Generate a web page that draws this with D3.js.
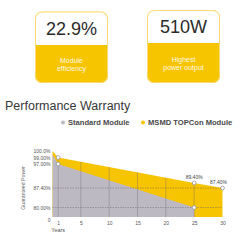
<!DOCTYPE html>
<html>
<head>
<meta charset="utf-8">
<script src="https://cdn.jsdelivr.net/npm/d3@7"></script>
<style>
  body { margin: 0; background: #fff; }
  svg { display: block; font-family: "Liberation Sans", Arial, sans-serif; }
</style>
</head>
<body>
<script>
// top cards
var cardValues = ["22.9%", "510W"];
var cardLabels = [["Module", "efficiency"], ["Highest", "power output"]];

// warranty chart
var seriesNames = ["Standard Module", "MSMD TOPCon Module"];
var standardYears = [0, 1, 25];
var standardPower = [99.5, 97, 80];
var topconYears = [0, 1, 25, 30];
var topconPower = [100, 99, 89.4, 87.4];
var yTickValues = [0, 80, 87.4, 97, 99, 100];
var yTickLabels = ["0", "80.00%", "87.40%", "97.00%", "99.00%", "100.0%"];
var xTickValues = [1, 5, 10, 15, 20, 25, 30];
var gridYears = [1, 5, 10, 15, 20, 25];
var dashedLevels = [87.4, 80];

var yellow = "#f7c400";
var grey = "#bdb9c3";

var svg = d3.select("body").append("svg")
    .attr("width", 240)
    .attr("height", 240);

// ---- cards
var cards = [
  {x: 35, y: 11.5, w: 73, h: 71.5, split: 45, base: 35, lab: [62.5, 71]},
  {x: 147, y: 10, w: 73, h: 73, split: 43, base: 33, lab: [61.5, 70]}
];

cards.forEach(function(c, i) {
  var id = "cardclip" + i;
  svg.append("clipPath").attr("id", id)
    .append("rect")
    .attr("x", c.x).attr("y", c.y).attr("width", c.w).attr("height", c.h).attr("rx", 7);

  var g = svg.append("g");
  g.append("rect")
    .attr("x", c.x).attr("y", c.y).attr("width", c.w).attr("height", c.h)
    .attr("clip-path", "url(#" + id + ")")
    .attr("fill", yellow);
  g.append("rect")
    .attr("x", c.x).attr("y", c.y).attr("width", c.w).attr("height", c.split - c.y)
    .attr("clip-path", "url(#" + id + ")")
    .attr("fill", "#fff");
  g.append("rect")
    .attr("x", c.x + 0.5).attr("y", c.y + 0.5).attr("width", c.w - 1).attr("height", c.h - 1)
    .attr("rx", 7)
    .attr("fill", "none")
    .attr("stroke", "#f9d970")
    .attr("stroke-width", 1);

  g.append("text")
    .attr("x", c.x + c.w / 2).attr("y", c.base)
    .attr("text-anchor", "middle")
    .attr("font-size", 18)
    .attr("fill", "#2a2a2a")
    .text(cardValues[i]);

  cardLabels[i].forEach(function(t, j) {
    g.append("text")
      .attr("x", c.x + c.w / 2).attr("y", c.lab[j])
      .attr("text-anchor", "middle")
      .attr("font-size", 7)
      .attr("fill", "#fff8e6")
      .text(t);
  });
});

// ---- title + legend
svg.append("text")
  .attr("x", 5).attr("y", 110)
  .attr("font-size", 12.5)
  .attr("fill", "#383838")
  .text("Performance Warranty");

var legendX = [63, 143];
var legendColors = [grey, yellow];
seriesNames.forEach(function(n, i) {
  svg.append("circle")
    .attr("cx", legendX[i]).attr("cy", 122.5).attr("r", 2)
    .attr("fill", legendColors[i]);
  svg.append("text")
    .attr("x", legendX[i] + 5).attr("y", 125)
    .attr("font-size", 7.6)
    .attr("font-weight", "bold")
    .attr("fill", "#4a4a4a")
    .text(n);
});

// ---- chart
var x = d3.scaleLinear().domain([0, 30]).range([52.5, 222.5]);
var y = d3.scaleLinear()
    .domain([0, 80, 87.4, 97, 99, 100])
    .range([217, 207.5, 188, 164, 157.5, 151]);

var standard = standardYears.map(function(d, i) { return [d, standardPower[i]]; });
var topcon = topconYears.map(function(d, i) { return [d, topconPower[i]]; });

var area = d3.area()
    .x(function(d) { return x(d[0]); })
    .y0(y(0))
    .y1(function(d) { return y(d[1]); });

svg.append("clipPath").attr("id", "plotclip")
  .append("path").attr("d", area(topcon));

svg.append("path").attr("d", area(topcon)).attr("fill", yellow);
svg.append("path").attr("d", area(standard)).attr("fill", grey);

var grid = svg.append("g").attr("clip-path", "url(#plotclip)");
grid.selectAll(".vgrid")
  .data(gridYears)
  .enter().append("line")
  .attr("class", "vgrid")
  .attr("x1", function(d) { return x(d); })
  .attr("x2", function(d) { return x(d); })
  .attr("y1", y(100))
  .attr("y2", y(0))
  .attr("stroke", "rgba(110,105,120,0.45)")
  .attr("stroke-width", 0.8);

svg.selectAll(".hgrid")
  .data(dashedLevels)
  .enter().append("line")
  .attr("class", "hgrid")
  .attr("x1", x(0))
  .attr("x2", x(30))
  .attr("y1", function(d) { return y(d); })
  .attr("y2", function(d) { return y(d); })
  .attr("stroke", "rgba(100,95,105,0.55)")
  .attr("stroke-width", 0.8)
  .attr("stroke-dasharray", "1.5,1");

// y axis labels
var yAxis = d3.axisLeft(y)
    .tickValues(yTickValues)
    .tickFormat(function(d, i) { return yTickLabels[i]; })
    .tickSize(0)
    .tickPadding(2);
var gy = svg.append("g")
  .attr("transform", "translate(" + x(0) + ",0)")
  .call(yAxis);
gy.select(".domain").remove();
gy.selectAll("text").attr("font-size", 5).attr("fill", "#555")
  .attr("font-family", "Liberation Sans, Arial, sans-serif");
gy.selectAll("text").filter(function(d) { return d === 0; }).attr("dy", "0.9em");

// x axis labels
var xAxis = d3.axisBottom(x)
    .tickValues(xTickValues)
    .tickFormat(d3.format("d"))
    .tickSize(0)
    .tickPadding(4);
var gx = svg.append("g")
  .attr("transform", "translate(0," + y(0) + ")")
  .call(xAxis);
gx.select(".domain").remove();
gx.selectAll("text").attr("font-size", 5).attr("fill", "#555")
  .attr("font-family", "Liberation Sans, Arial, sans-serif");

svg.append("text")
  .attr("x", x(1)).attr("y", 232)
  .attr("text-anchor", "middle")
  .attr("font-size", 5.5)
  .attr("fill", "#555")
  .text("Years");

svg.append("text")
  .attr("transform", "translate(25,188) rotate(-90)")
  .attr("text-anchor", "middle")
  .attr("font-size", 5.2)
  .attr("fill", "#666")
  .text("Guaranteed Power");

// markers
var markers = [
  standard[1], standard[2], topcon[1], topcon[2], topcon[3]
];
svg.selectAll(".mark")
  .data(markers)
  .enter().append("circle")
  .attr("class", "mark")
  .attr("cx", function(d) { return x(d[0]); })
  .attr("cy", function(d) { return y(d[1]); })
  .attr("r", 1.9)
  .attr("fill", "#fff")
  .attr("stroke", "#8a8790")
  .attr("stroke-width", 0.7);

// value labels on TOPCon end points
svg.selectAll(".vlab")
  .data([topcon[2], topcon[3]])
  .enter().append("text")
  .attr("class", "vlab")
  .attr("x", function(d) { return x(d[0]) - (d[0] === 30 ? 4 : 0); })
  .attr("y", function(d) { return y(d[1]) - 4.5; })
  .attr("text-anchor", "middle")
  .attr("font-size", 5)
  .attr("fill", "#444")
  .text(function(d) { return d3.format(".2f")(d[1]) + "%"; });
</script>
</body>
</html>
